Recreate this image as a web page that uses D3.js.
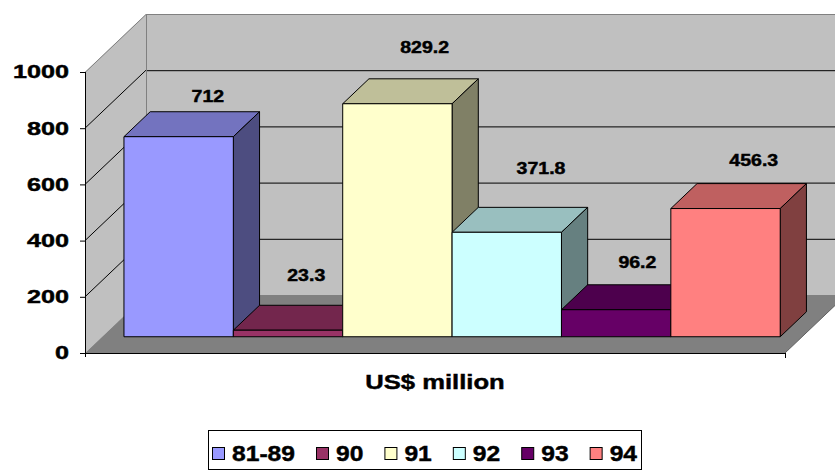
<!DOCTYPE html>
<html>
<head>
<meta charset="utf-8">
<script src="https://cdn.jsdelivr.net/npm/d3@7"></script>
<style>
  body { margin: 0; background: #ffffff; }
  svg { display: block; }
</style>
</head>
<body>
<svg id="chart" width="835" height="473"></svg>
<script>
// ---- data ----
const categories = ["81-89", "90", "91", "92", "93", "94"];
const values = [712, 23.3, 829.2, 371.8, 96.2, 456.3];
const valueLabels = ["712", "23.3", "829.2", "371.8", "96.2", "456.3"];
const yTicks = [0, 200, 400, 600, 800, 1000];
const seriesColors = ["#9999FF", "#993366", "#FFFFCC", "#CCFFFF", "#660066", "#FF8080"];
const axisTitle = "US$ million";

// per-label placement tweaks (px) relative to the back edge of each bar's top
const labelShift = [[3, -15], [-8, -30], [1, -32], [8, -39], [-5, -23], [2, -23]];

// ---- layout ----
const svg = d3.select("#chart");
const font = "'Liberation Sans', Arial, Helvetica, sans-serif";
const depth = { dx: 61, dy: -58 };      // oblique projection of full floor depth
const barNear = 0.28, barFar = 0.71;    // bar depth span as fraction of floor depth

const y = d3.scaleLinear().domain([0, 1000]).range([353, 72]);
const x = d3.scaleBand().domain(categories).range([85, 785])
  .paddingInner(0).paddingOuter(0.2);

const X0 = x.range()[0], X1 = x.range()[1];
const Y0 = y(0), YT = y(1000);
const pt = (px, py, f) => [px + depth.dx * f, py + depth.dy * f];
const poly = pts => pts.map(p => p.join(",")).join(" ");

// stretched, heavy bold text helper
function label(g, txt, cx, cy, size, sx, anchor) {
  return g.append("text")
    .attr("transform", `translate(${cx},${cy + size * 0.358}) scale(${sx},1)`)
    .attr("text-anchor", anchor)
    .attr("font-family", font)
    .attr("font-weight", "bold")
    .attr("font-size", size)
    .attr("fill", "#000")
    .attr("stroke", "#000")
    .attr("stroke-width", 0.45)
    .text(txt);
}

// ---- walls and floor ----
const walls = svg.append("g");
// back wall
walls.append("polygon")
  .attr("points", poly([pt(X0, YT, 1), pt(X1, YT, 1), pt(X1, Y0, 1), pt(X0, Y0, 1)]))
  .attr("fill", "#C0C0C0");
// side wall
walls.append("polygon")
  .attr("points", poly([[X0, YT], pt(X0, YT, 1), pt(X0, Y0, 1), [X0, Y0]]))
  .attr("fill", "#C0C0C0");
// floor
walls.append("polygon")
  .attr("points", poly([[X0, Y0], [X1, Y0], pt(X1, Y0, 1), pt(X0, Y0, 1)]))
  .attr("fill", "#808080");

// gridlines on back and side walls
const grid = svg.append("g").attr("stroke", "#000").attr("stroke-width", 1).attr("fill", "none");
yTicks.filter(v => v > 0 && v < 1000).forEach(v => {
  const a = pt(X0, y(v), 1), b = pt(X1, y(v), 1);
  grid.append("line").attr("x1", a[0]).attr("y1", a[1] + 0.5).attr("x2", b[0]).attr("y2", b[1] + 0.5);
  grid.append("line").attr("x1", X0).attr("y1", y(v)).attr("x2", a[0]).attr("y2", a[1]);
});

// wall borders
const border = svg.append("g").attr("stroke", "#808080").attr("stroke-width", 1).attr("fill", "none");
border.append("polyline").attr("points", poly([[X0, YT], pt(X0, YT, 1), pt(X1, YT, 1)]))
  .attr("transform", "translate(0,0.5)");
border.append("line")
  .attr("x1", pt(X0, YT, 1)[0] + 0.5).attr("y1", pt(X0, YT, 1)[1])
  .attr("x2", pt(X0, Y0, 1)[0] + 0.5).attr("y2", pt(X0, Y0, 1)[1]);
border.append("line")
  .attr("x1", X1).attr("y1", Y0).attr("x2", pt(X1, Y0, 1)[0]).attr("y2", pt(X1, Y0, 1)[1])
  .attr("stroke", "#606060");

// ---- bars ----
const shade = (c, k) => { const r = d3.rgb(c); return d3.rgb(r.r * k, r.g * k, r.b * k).formatHex(); };
const bars = svg.append("g").attr("stroke", "#000").attr("stroke-width", 1).attr("stroke-linejoin", "round");
const bw = x.bandwidth();
categories.forEach((c, i) => {
  const xa = x(c), xb = xa + bw, yv = y(values[i]);
  const g = bars.append("g");
  // top face
  g.append("polygon")
    .attr("points", poly([pt(xa, yv, barNear), pt(xb, yv, barNear), pt(xb, yv, barFar), pt(xa, yv, barFar)]))
    .attr("fill", shade(seriesColors[i], 0.75));
  // right side face
  g.append("polygon")
    .attr("points", poly([pt(xb, yv, barNear), pt(xb, yv, barFar), pt(xb, Y0, barFar), pt(xb, Y0, barNear)]))
    .attr("fill", shade(seriesColors[i], 0.5));
  // front face
  g.append("polygon")
    .attr("points", poly([pt(xa, yv, barNear), pt(xb, yv, barNear), pt(xb, Y0, barNear), pt(xa, Y0, barNear)]))
    .attr("fill", seriesColors[i]);
});

// ---- axes ----
const axes = svg.append("g").attr("stroke", "#000").attr("stroke-width", 1);
axes.append("line").attr("x1", X0 + 0.5).attr("y1", YT).attr("x2", X0 + 0.5).attr("y2", Y0 + 4);
axes.append("line").attr("x1", X0).attr("y1", Y0 + 0.5).attr("x2", X1).attr("y2", Y0 + 0.5);
axes.append("line").attr("x1", X1 + 0.5).attr("y1", Y0).attr("x2", X1 + 0.5).attr("y2", Y0 + 5);
yTicks.forEach(v => {
  axes.append("line").attr("x1", X0 - 5).attr("y1", y(v) + 0.5).attr("x2", X0).attr("y2", y(v) + 0.5);
});

const texts = svg.append("g");
yTicks.forEach(v => label(texts, d3.format("d")(v), 69, y(v), 18, 1.4, "end"));

// value labels above bars
categories.forEach((c, i) => {
  const top = pt(x(c) + bw / 2, y(values[i]), barFar);
  label(texts, valueLabels[i], top[0] + labelShift[i][0], top[1] + labelShift[i][1], 16, 1.22, "middle");
});

// axis title
label(texts, axisTitle, (X0 + X1) / 2, 381, 21, 1.22, "middle");

// ---- legend ----
const legend = svg.append("g");
legend.append("rect").attr("x", 208.5).attr("y", 430.5).attr("width", 433).attr("height", 39)
  .attr("fill", "#fff").attr("stroke", "#000");
let lx = 212;
categories.forEach((c, i) => {
  legend.append("rect").attr("x", lx + 0.5).attr("y", 447.5).attr("width", 12).attr("height", 12)
    .attr("fill", seriesColors[i]).attr("stroke", "#000");
  const sx = 1.12;
  const t = label(legend, c, lx + 20, 453, 22, sx, "start");
  const w = t.node().getBBox().width * sx;
  lx = lx + 20 + w + 21;
});
</script>
</body>
</html>
